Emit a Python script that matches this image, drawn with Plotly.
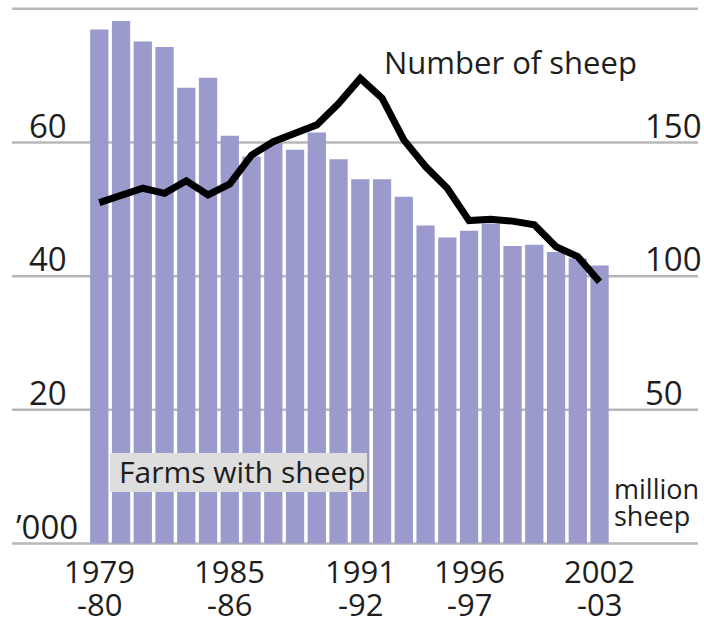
import plotly.graph_objects as go

# ---- data ----
seasons = ["1979-80", "1980-81", "1981-82", "1982-83", "1983-84", "1984-85",
           "1985-86", "1986-87", "1987-88", "1988-89", "1989-90", "1990-91",
           "1991-92", "1992-93", "1993-94", "1994-95", "1995-96", "1996-97",
           "1997-98", "1998-99", "1999-00", "2000-01", "2001-02", "2002-03"]
farms_thousands = [76.9, 78.2, 75.1, 74.3, 68.2, 69.7, 61.0, 57.9, 59.9, 58.9,
                   61.5, 57.5, 54.5, 54.5, 51.9, 47.6, 45.8, 46.8, 47.9, 44.5,
                   44.7, 43.6, 42.7, 41.6]
sheep_millions = [127.5, 130.5, 132.9, 131.0, 135.7, 130.4, 134.5, 145.3, 150.3,
                  153.5, 156.6, 164.6, 174.0, 166.6, 151.0, 141.0, 132.9, 120.8,
                  121.3, 120.6, 119.2, 111.0, 107.3, 97.9]
left_ticks = [20, 40, 60]
right_ticks = [50, 100, 150]
grid_vals = [0, 20, 40, 60, 80]
xlabel_idx = [0, 6, 12, 17, 23]
xlabel_top = ["1979", "1985", "1991", "1996", "2002"]
xlabel_bot = ["-80", "-86", "-92", "-97", "-03"]

FONT = "Open Sans"
TXT = "#1e1e1e"
W, H = 704, 625
ML, MR, MT, MB = 12, 6, 4, 77
PW = W - ML - MR
PH = H - MT - MB
PPU = 6.683          # pixels per left-axis unit
ZERO_PX = 543.5      # pixel row of zero
PITCH = 21.75
C0 = 99.3

x_idx = list(range(len(seasons)))
xr = [(ML - C0) / PITCH, (len(seasons) - 1) + (W - MR - (C0 + PITCH * (len(seasons) - 1))) / PITCH]
y_lo = -((H - MB) - ZERO_PX) / PPU
y_hi = (ZERO_PX - MT) / PPU


def px_x(px):
    return (px - ML) / PW


def px_y(py):
    return (H - MB - py) / PH


def val_px(v):
    return ZERO_PX - v * PPU


fig = go.Figure()
fig.add_trace(go.Bar(x=x_idx, y=farms_thousands, marker=dict(color="#9a9acd", line=dict(width=0)),
                     name="Farms with sheep", yaxis="y"))
fig.add_trace(go.Scatter(x=x_idx, y=sheep_millions, mode="lines", yaxis="y2",
                         line=dict(color="black", width=7, shape="linear"),
                         name="Number of sheep"))

shapes = []
for g in grid_vals:
    shapes.append(dict(type="line", xref="paper", yref="y", x0=0, x1=1, y0=g, y1=g,
                       line=dict(color="#b8b8b8", width=2.5), layer="below"))
# label box for "Farms with sheep"
shapes.append(dict(type="rect", xref="paper", yref="paper", x0=px_x(110), x1=px_x(367),
                   y0=px_y(492), y1=px_y(453), fillcolor="#dedede",
                   line=dict(width=0), layer="above"))

ann = []
OFF = 17.5
for t in left_ticks:
    ann.append(dict(text=str(t), xref="paper", yref="paper", x=px_x(27), y=px_y(val_px(t) - OFF),
                    xanchor="left", yanchor="middle", showarrow=False,
                    font=dict(family=FONT, size=33, color=TXT)))
ann.append(dict(text="\u2019000", xref="paper", yref="paper", x=px_x(14), y=px_y(val_px(0) - OFF),
                xanchor="left", yanchor="middle", showarrow=False,
                font=dict(family=FONT, size=33, color=TXT)))
for t in right_ticks:
    ann.append(dict(text=str(t), xref="paper", yref="paper", x=px_x(643), y=px_y(val_px(t / 2.5) - OFF),
                    xanchor="left", yanchor="middle", showarrow=False,
                    font=dict(family=FONT, size=33, color=TXT)))
ann.append(dict(text="million", xref="paper", yref="paper", x=px_x(612), y=px_y(488),
                xanchor="left", yanchor="middle", showarrow=False,
                font=dict(family=FONT, size=27, color=TXT)))
ann.append(dict(text="sheep", xref="paper", yref="paper", x=px_x(612), y=px_y(515),
                xanchor="left", yanchor="middle", showarrow=False,
                font=dict(family=FONT, size=27, color=TXT)))
for i, top, bot in zip(xlabel_idx, xlabel_top, xlabel_bot):
    ann.append(dict(text=top, xref="x", yref="paper", x=i, y=px_y(571),
                    xanchor="center", yanchor="middle", showarrow=False,
                    font=dict(family=FONT, size=31, color=TXT)))
    ann.append(dict(text=bot, xref="x", yref="paper", x=i, y=px_y(603.5),
                    xanchor="center", yanchor="middle", showarrow=False,
                    font=dict(family=FONT, size=31, color=TXT)))
ann.append(dict(text="Number of sheep", xref="paper", yref="paper", x=px_x(382), y=px_y(61.5),
                xanchor="left", yanchor="middle", showarrow=False,
                font=dict(family=FONT, size=31, color=TXT)))
ann.append(dict(text="Farms with sheep", xref="paper", yref="paper", x=px_x(117), y=px_y(471),
                xanchor="left", yanchor="middle", showarrow=False,
                font=dict(family=FONT, size=30, color=TXT)))

fig.update_layout(
    width=W, height=H,
    margin=dict(l=ML, r=MR, t=MT, b=MB, pad=0),
    paper_bgcolor="white", plot_bgcolor="white",
    showlegend=False, bargap=0.16,
    xaxis=dict(range=xr, showgrid=False, zeroline=False, showticklabels=False,
               ticks="", showline=False, fixedrange=True),
    yaxis=dict(range=[y_lo, y_hi], showgrid=False, zeroline=False, showticklabels=False,
               ticks="", showline=False),
    yaxis2=dict(range=[y_lo * 2.5, y_hi * 2.5], overlaying="y", side="right",
                showgrid=False, zeroline=False, showticklabels=False, ticks="", showline=False),
    shapes=shapes, annotations=ann,
)

fig.write_html("out.html")
